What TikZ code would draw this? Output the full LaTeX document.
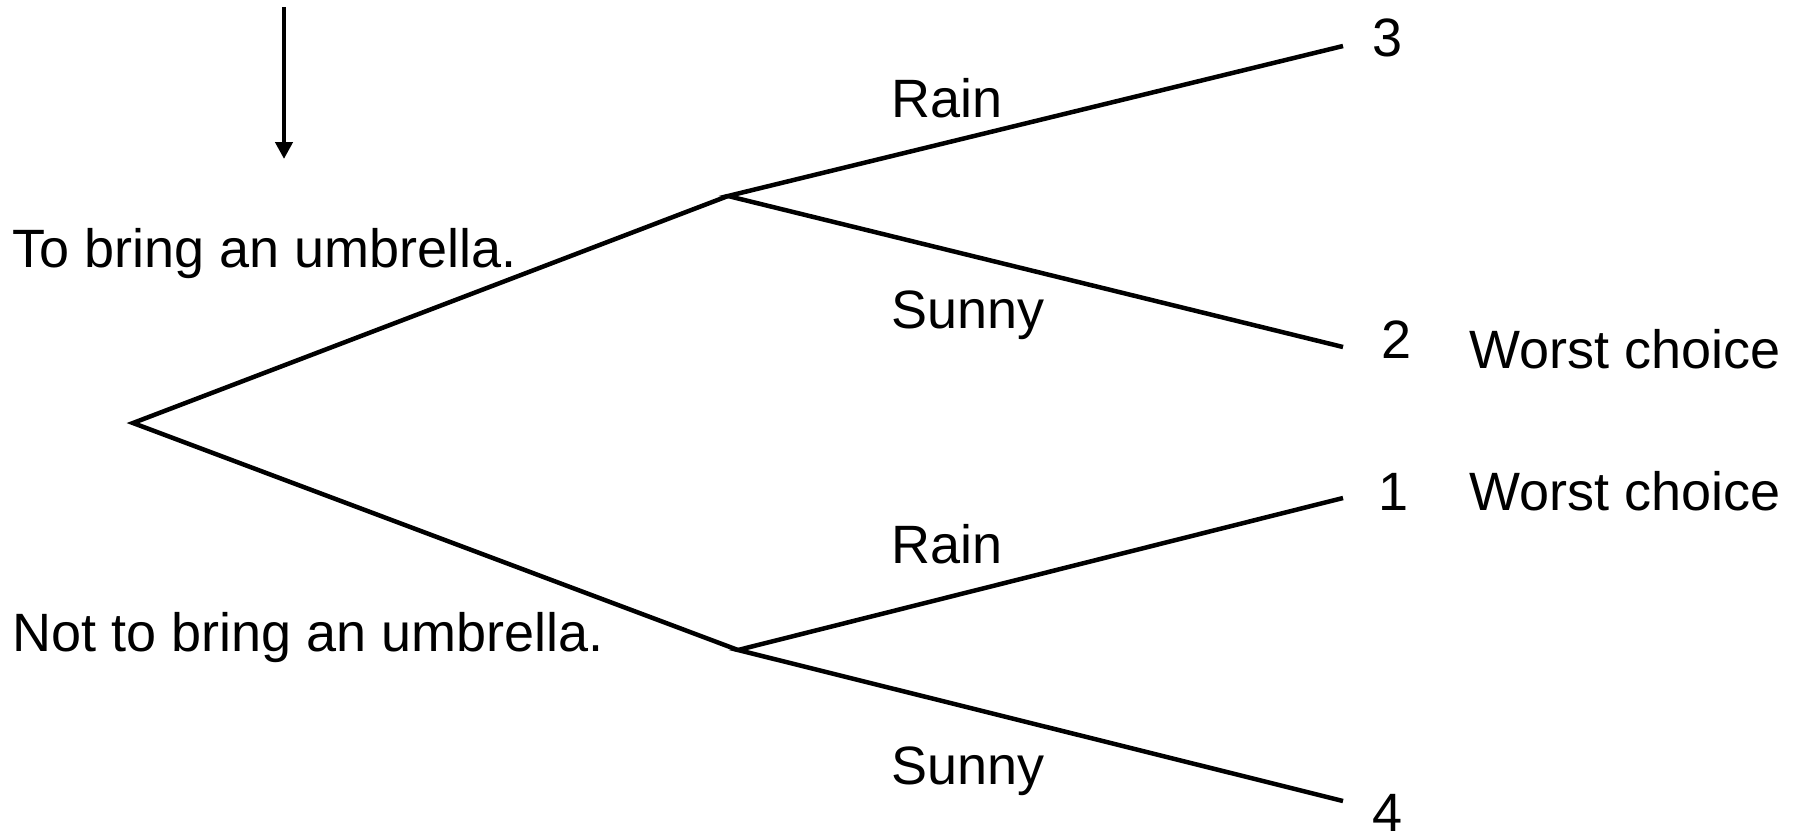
\documentclass[tikz,border=0pt]{standalone}
\usepackage{fontspec}
\setmainfont{Liberation Sans}
\usetikzlibrary{arrows.meta}
\begin{document}
\begin{tikzpicture}[x=1pt,y=-1pt,
  branch/.style={line width=4.5pt,line join=miter},
  lbl/.style={anchor=base west,inner sep=0pt,font=\fontsize{54}{60}\selectfont},
  pointer/.style={line width=4.5pt,-{Triangle[width=17pt,length=17pt]}}]
\useasboundingbox (0,0) rectangle (1795,833);
% tree points
\coordinate (root) at (133,423);
\coordinate (up) at (728,196);
\coordinate (lo) at (738,650);
\coordinate (l3) at (1343,46);
\coordinate (l2) at (1343,347);
\coordinate (l1) at (1343,498);
\coordinate (l4) at (1343,801);
\coordinate (atop) at (284,7);
\coordinate (abot) at (284,159);
% connectors
\draw[branch] (up) -- (root) -- (lo);
\draw[branch] (l3) -- (up) -- (l2);
\draw[branch] (l1) -- (lo) -- (l4);
\draw[pointer] (atop) -- (abot);
% labels
\node[lbl] (tb) at (12,267) {To bring an umbrella.};
\node[lbl] (ntb) at (12,651) {Not to bring an umbrella.};
\node[lbl] (r1) at (891,117) {Rain};
\node[lbl] (s1) at (891,328) {Sunny};
\node[lbl] (r2) at (891,563) {Rain};
\node[lbl] (s2) at (891,784) {Sunny};
\node[lbl] (v3) at (1372,56) {3};
\node[lbl] (v2) at (1381,358) {2};
\node[lbl] (v1) at (1378,510) {1};
\node[lbl] (v4) at (1372,831) {4};
\node[lbl] (w2) at (1469,368) {Worst choice};
\node[lbl] (w1) at (1469,510) {Worst choice};
\end{tikzpicture}
\end{document}
